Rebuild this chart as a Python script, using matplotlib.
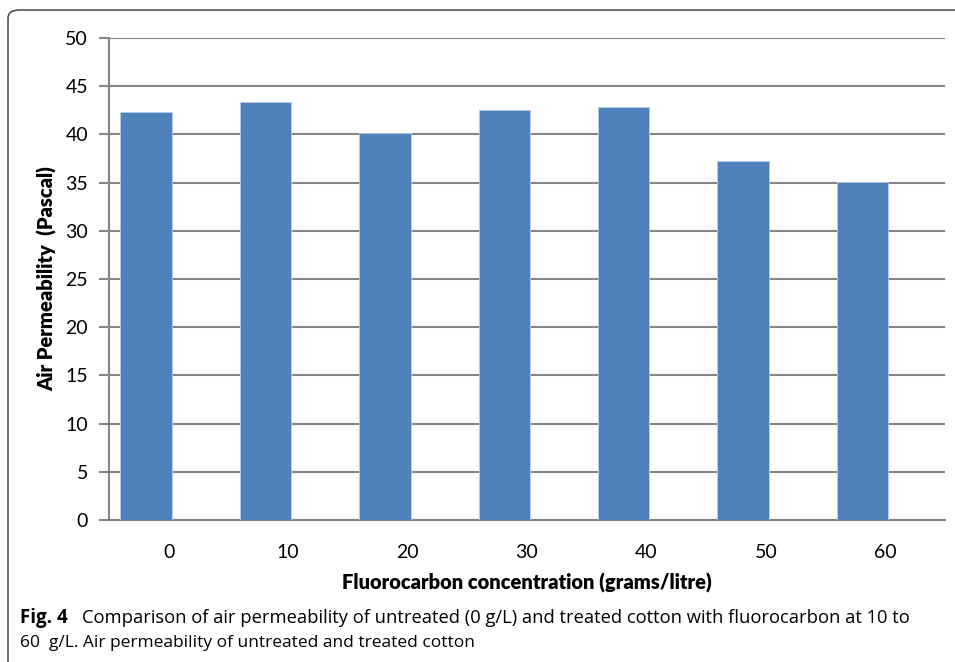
import matplotlib.pyplot as plt
from matplotlib.patches import FancyBboxPatch

# data
concentration = ["0", "10", "20", "30", "40", "50", "60"]
permeability = [42.3, 43.4, 40.1, 42.5, 42.8, 37.2, 35.1]
y_ticks = [0, 5, 10, 15, 20, 25, 30, 35, 40, 45, 50]

plt.rcParams['font.family'] = ['Lato', 'DejaVu Sans']

fig = plt.figure(figsize=(9.55, 6.62), dpi=100)
W, H = 955, 662
ax = fig.add_axes([109 / W, 1 - 520 / H, (945 - 109) / W, (520 - 38) / H])

pos = list(range(len(concentration)))
ax.bar(pos, permeability, width=0.43, color="#4F81BD", edgecolor="#B9CDE5",
       linewidth=0.6, zorder=3)

ax.set_xlim(-0.31, 6.69)
ax.set_ylim(0, 50)
ax.set_yticks(y_ticks)
ax.set_xticks([p + 0.19 for p in pos])
ax.set_xticklabels(concentration)
ax.grid(axis="y", color="#868686", linewidth=1.5, zorder=0)

for s in ["top", "right"]:
    ax.spines[s].set_visible(False)
for s in ["left", "bottom"]:
    ax.spines[s].set_color("#868686")
    ax.spines[s].set_linewidth(1.5)
ax.tick_params(axis="y", length=7, width=1.5, color="#868686", labelsize=14, pad=8)
ax.tick_params(axis="x", length=0, labelsize=14, pad=17)

ax.set_ylabel("Air Permeability  (Pascal)", fontsize=14.5, fontweight="heavy", labelpad=6)
ax.set_xlabel("Fluorocarbon concentration (grams/litre)", fontsize=14.5,
              fontweight="heavy", labelpad=9)

# rounded outline frame around figure + caption
frame = FancyBboxPatch((8 / W, -20 / H), 1.05, (662 - 10 + 20) / H,
                       boxstyle="round,pad=0,rounding_size=0.012",
                       transform=fig.transFigure, fill=False,
                       edgecolor="#333333", linewidth=1.0, clip_on=False)
fig.patches.append(frame)

cap_font = ['Open Sans', 'DejaVu Sans']
fig.text(20 / W, 1 - 623 / H, "Fig. 4", fontsize=13.5, fontweight="bold",
         family=cap_font, va="baseline")
fig.text(82 / W, 1 - 623 / H,
         "Comparison of air permeability of untreated (0 g/L) and treated cotton with fluorocarbon at 10 to",
         fontsize=13.2, family=cap_font, va="baseline")
fig.text(20 / W, 1 - 647 / H,
         "60  g/L. Air permeability of untreated and treated cotton",
         fontsize=12.5, family=cap_font, va="baseline")

fig.savefig("out.png", dpi=100)
